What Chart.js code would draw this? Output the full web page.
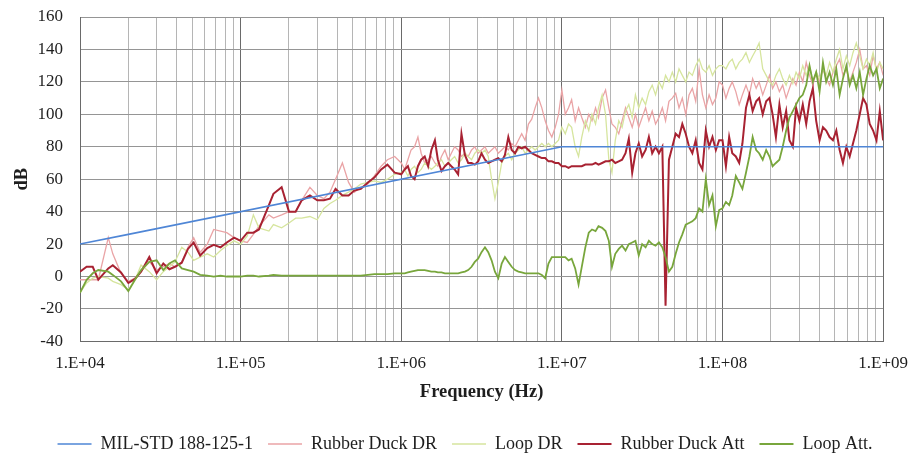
<!DOCTYPE html>
<html>
<head>
<meta charset="utf-8">
<script src="https://cdn.jsdelivr.net/npm/chart.js@4.4.1/dist/chart.umd.min.js"></script>
<style>
  html, body { margin: 0; padding: 0; background: #ffffff; }
  #wrap { width: 920px; height: 456px; }
</style>
</head>
<body>
<div id="wrap"><canvas id="chart" width="920" height="456"></canvas></div>
<script>
// Swept measurement frequencies (Hz): E24 steps below 1 MHz, E48 steps above.
const sweepHz = [
  1.0e4,1.1e4,1.2e4,1.3e4,1.5e4,1.6e4,1.8e4,2.0e4,2.2e4,2.4e4,2.7e4,3.0e4,3.3e4,3.6e4,3.9e4,4.3e4,4.7e4,5.1e4,5.6e4,6.2e4,6.8e4,7.5e4,8.2e4,9.1e4,
  1.0e5,1.1e5,1.2e5,1.3e5,1.5e5,1.6e5,1.8e5,2.0e5,2.2e5,2.4e5,2.7e5,3.0e5,3.3e5,3.6e5,3.9e5,4.3e5,4.7e5,5.1e5,5.6e5,6.2e5,6.8e5,7.5e5,8.2e5,9.1e5,
  1.00e6,1.05e6,1.10e6,1.15e6,1.21e6,1.27e6,1.33e6,1.40e6,1.47e6,1.54e6,1.62e6,1.69e6,1.78e6,1.87e6,1.96e6,2.05e6,2.15e6,2.26e6,2.37e6,2.49e6,
  2.61e6,2.74e6,2.87e6,3.01e6,3.16e6,3.32e6,3.48e6,3.65e6,3.83e6,4.02e6,4.22e6,4.42e6,4.64e6,4.87e6,5.11e6,5.36e6,5.62e6,5.90e6,6.19e6,6.49e6,
  6.81e6,7.15e6,7.50e6,7.87e6,8.25e6,8.66e6,9.09e6,9.53e6,
  1.00e7,1.05e7,1.10e7,1.15e7,1.21e7,1.27e7,1.33e7,1.40e7,1.47e7,1.54e7,1.62e7,1.69e7,1.78e7,1.87e7,1.96e7,2.05e7,2.15e7,2.26e7,2.37e7,2.49e7,
  2.61e7,2.74e7,2.87e7,3.01e7,3.16e7,3.32e7,3.48e7,3.65e7,3.83e7,4.02e7,4.22e7,4.42e7,4.64e7,4.87e7,5.11e7,5.36e7,5.62e7,5.90e7,6.19e7,6.49e7,
  6.81e7,7.15e7,7.50e7,7.87e7,8.25e7,8.66e7,9.09e7,9.53e7,
  1.00e8,1.05e8,1.10e8,1.15e8,1.21e8,1.27e8,1.33e8,1.40e8,1.47e8,1.54e8,1.62e8,1.69e8,1.78e8,1.87e8,1.96e8,2.05e8,2.15e8,2.26e8,2.37e8,2.49e8,
  2.61e8,2.74e8,2.87e8,3.01e8,3.16e8,3.32e8,3.48e8,3.65e8,3.83e8,4.02e8,4.22e8,4.42e8,4.64e8,4.87e8,5.11e8,5.36e8,5.62e8,5.90e8,6.19e8,6.49e8,
  6.81e8,7.15e8,7.50e8,7.87e8,8.25e8,8.66e8,9.09e8,9.53e8,
  1.0e9
];

// MIL-STD 188-125-1 requirement curve (break points)
const milStdHz = [1e4, 2e4, 1e7, 1e9];
const milStdDb = [20, 26, 80, 80];

// Rubber duck antenna, dynamic range (dB)
const rubberDuckDr = [
  -2,-2,-2,-2,24,14,2,-3,-1,3,9,4,6,8,6,9,18,24,15,20,29,28,27,24,
  22,21,26,31,38,36,38,40,40,47,55,50,48,52,60,70,58,52,55,57,62,68,72,74,
  70,66,72,78,80,86,76,70,72,74,70,68,74,78,72,76,80,78,74,76,
  74,78,80,76,78,80,76,78,80,76,78,80,78,82,80,84,88,84,94,97,
  104,110,104,96,90,86,92,100,
  115,100,104,109,96,104,98,92,100,96,104,98,110,115,104,94,92,88,96,104,
  98,92,100,92,98,104,96,102,94,98,104,96,108,110,113,104,110,100,112,116,
  108,128,112,104,112,106,110,120,
  118,110,116,120,114,106,112,118,112,122,116,120,112,118,124,116,120,114,118,110,
  116,122,118,126,120,132,124,118,126,120,128,122,118,126,130,134,124,128,120,126,
  132,140,128,130,124,136,128,132,
  124
];

// Loop antenna, dynamic range (dB)
const loopDr = [
  -10,-4,-1,0,-1,-3,-5,-8,-2,7,3,-2,3,6,9,18,15,10,12,14,12,16,19,22,
  20,25,38,30,28,32,30,33,36,36,37,35,42,45,47,50,52,54,57,58,59,58,60,63,
  64,66,62,66,68,64,66,70,68,66,68,70,72,68,70,72,74,70,72,76,
  74,72,76,78,76,78,74,60,48,58,70,74,76,72,76,78,80,76,78,80,
  78,80,82,80,82,80,82,84,
  92,88,94,92,80,74,86,96,90,100,94,104,112,100,72,64,84,96,92,102,
  106,98,112,104,110,106,114,118,112,120,116,124,120,126,120,128,124,120,126,124,
  130,134,128,126,130,124,128,130,
  130,128,132,134,128,132,134,138,132,136,140,144,128,124,120,118,124,128,122,118,
  124,119,126,122,130,124,130,120,126,122,128,124,132,126,134,140,128,136,130,138,
  144,136,128,134,130,138,126,132,
  128
];

// Rubber duck antenna, attenuation (dB)
const rubberDuckAtt = [
  3,6,6,-2,5,7,2.5,-4,-1.5,3,12,2,8,4.5,6,8.5,17,21,13,17.5,19.5,18,21,24,
  22,27,27,29,44,51,55,40,40,47,50,47,47,48,54,50,50,53,54,58,61,66,69,64,
  63,66,68,62,60,68,72,74,68,78,84,72,65,68,70,68,66,63,88,75,
  70,70,69,71,76,72,70,71,72,73,71,75,86,78,76,80,79,80,78,76,
  75,74,73,73,71,71,70,70,
  68,68,67,68,68,68,68,69,69,69,70,69,70,71,71,72,70,71,72,76,
  85,64,76,82,74,78,86,76,80,76,80,-18,72,80,88,86,94,88,80,76,
  84,70,66,90,80,86,78,84,
  84,68,86,76,74,70,82,104,112,102,108,110,100,108,110,100,86,106,92,102,
  84,80,104,96,106,94,108,116,96,84,92,90,86,84,90,78,70,80,74,82,
  90,100,110,106,94,90,84,102,
  84
];

// Loop antenna, attenuation (dB)
const loopAtt = [
  -10,-2,2,4,3,1,-3,-9,-2,4,9,10,4,8,10,5,4,3,1,0.5,0,0.5,0,0,
  0,0.5,0.5,0,0.5,1,0.5,0.5,0.5,0.5,0.5,0.5,0.5,0.5,0.5,0.5,0.5,0.5,0.5,1,1.5,1.5,1.5,2,
  2,2,2.5,3,3.5,4,4,4,3.5,3,3,2.5,2.5,2,2,2,2,2,2.5,3,
  4,6,9,11,15,18,15,10,3,-1,8,12,9,6,4,3,2.5,2,2,2,
  2,2,1,-1,8,12,12,12,
  12,12,10,11,5,-5,6,18,27,29,28,31,30,28,22,6,14,17,19,16,
  20,21,22,13,20,18,22,20,19,21,18,12,3,6,14,21,26,32,33,34,
  36,42,40,60,44,50,31,41,
  42,46,44,50,62,58,54,64,74,86,78,76,72,78,74,68,70,72,80,90,
  98,102,106,110,112,118,130,120,126,114,132,120,126,118,128,112,122,130,118,124,
  116,126,112,122,130,124,128,116,
  122
];

// Axis ticks
const decadeHz = [1e4, 1e5, 1e6, 1e7, 1e8, 1e9];
const decadeLabels = ['1.E+04', '1.E+05', '1.E+06', '1.E+07', '1.E+08', '1.E+09'];
const minorSteps = [2, 3, 4, 5, 6, 7, 8, 9];

const FONT = "'Liberation Serif', 'Times New Roman', serif";
const TEXT = '#1e1e1e';

function points(xs, ys) {
  return xs.map((x, i) => ({ x: x, y: ys[i] }));
}

function line(label, xs, ys, color, width, order) {
  return {
    label: label,
    data: points(xs, ys),
    borderColor: color,
    backgroundColor: color,
    borderWidth: width,
    pointRadius: 0,
    pointHoverRadius: 0,
    tension: 0,
    fill: false,
    order: order
  };
}

// grid positions: every decade plus 2..9 within each decade
const xGridValues = [];
decadeHz.forEach((d, i) => {
  xGridValues.push(d);
  if (i < decadeHz.length - 1) minorSteps.forEach(m => xGridValues.push(m * d));
});

new Chart(document.getElementById('chart'), {
  type: 'line',
  data: {
    datasets: [
      line('MIL-STD 188-125-1', milStdHz, milStdDb, '#4f86d6', 1.6, 0),
      line('Rubber Duck DR', sweepHz, rubberDuckDr, '#eaa4a6', 1.3, 4),
      line('Loop DR', sweepHz, loopDr, '#d6e59e', 1.3, 3),
      line('Rubber Duck Att', sweepHz, rubberDuckAtt, '#a82232', 2, 2),
      line('Loop Att.', sweepHz, loopAtt, '#78a63c', 1.8, 1)
    ]
  },
  options: {
    responsive: false,
    animation: false,
    devicePixelRatio: 1,
    layout: { padding: { left: 39, right: 29, top: 17, bottom: -7 } },
    plugins: {
      legend: {
        position: 'bottom',
        labels: {
          boxWidth: 34,
          boxHeight: 0,
          padding: 15,
          color: TEXT,
          font: { family: FONT, size: 18 },
          sort: (a, b) => a.datasetIndex - b.datasetIndex
        }
      },
      tooltip: { enabled: false }
    },
    scales: {
      x: {
        type: 'logarithmic',
        min: 1e4,
        max: 1e9,
        afterBuildTicks: scale => {
          scale.ticks = xGridValues.map(v => ({ value: v, major: decadeHz.includes(v) }));
        },
        ticks: {
          autoSkip: false,
          maxRotation: 0,
          minRotation: 0,
          padding: 12,
          color: TEXT,
          font: { family: FONT, size: 17 },
          callback: value => {
            const k = decadeHz.indexOf(value);
            return k >= 0 ? decadeLabels[k] : '';
          }
        },
        grid: {
          drawTicks: false,
          lineWidth: 1,
          color: ctx => (ctx.tick && decadeHz.includes(ctx.tick.value)) ? '#6a6a6a' : '#b5b5b5'
        },
        border: { color: '#6a6a6a', width: 1 },
        title: {
          display: true,
          text: 'Frequency (Hz)',
          color: TEXT,
          font: { family: FONT, size: 18.5, weight: 'bold' },
          padding: { top: -5, bottom: 17 }
        }
      },
      y: {
        min: -40,
        max: 160,
        afterFit: scale => { scale.width = 41; },
        ticks: {
          stepSize: 20,
          padding: 0,
          color: TEXT,
          font: { family: FONT, size: 17 }
        },
        grid: {
          drawTicks: true,
          tickLength: 17,
          tickColor: 'rgba(0,0,0,0)',
          lineWidth: 1,
          color: '#959595'
        },
        border: { color: '#6a6a6a', width: 1 },
        title: {
          display: true,
          text: 'dB',
          color: TEXT,
          font: { family: FONT, size: 18.5, weight: 'bold' },
          padding: { top: -28, bottom: 0 }
        }
      }
    }
  }
});
</script>
</body>
</html>
